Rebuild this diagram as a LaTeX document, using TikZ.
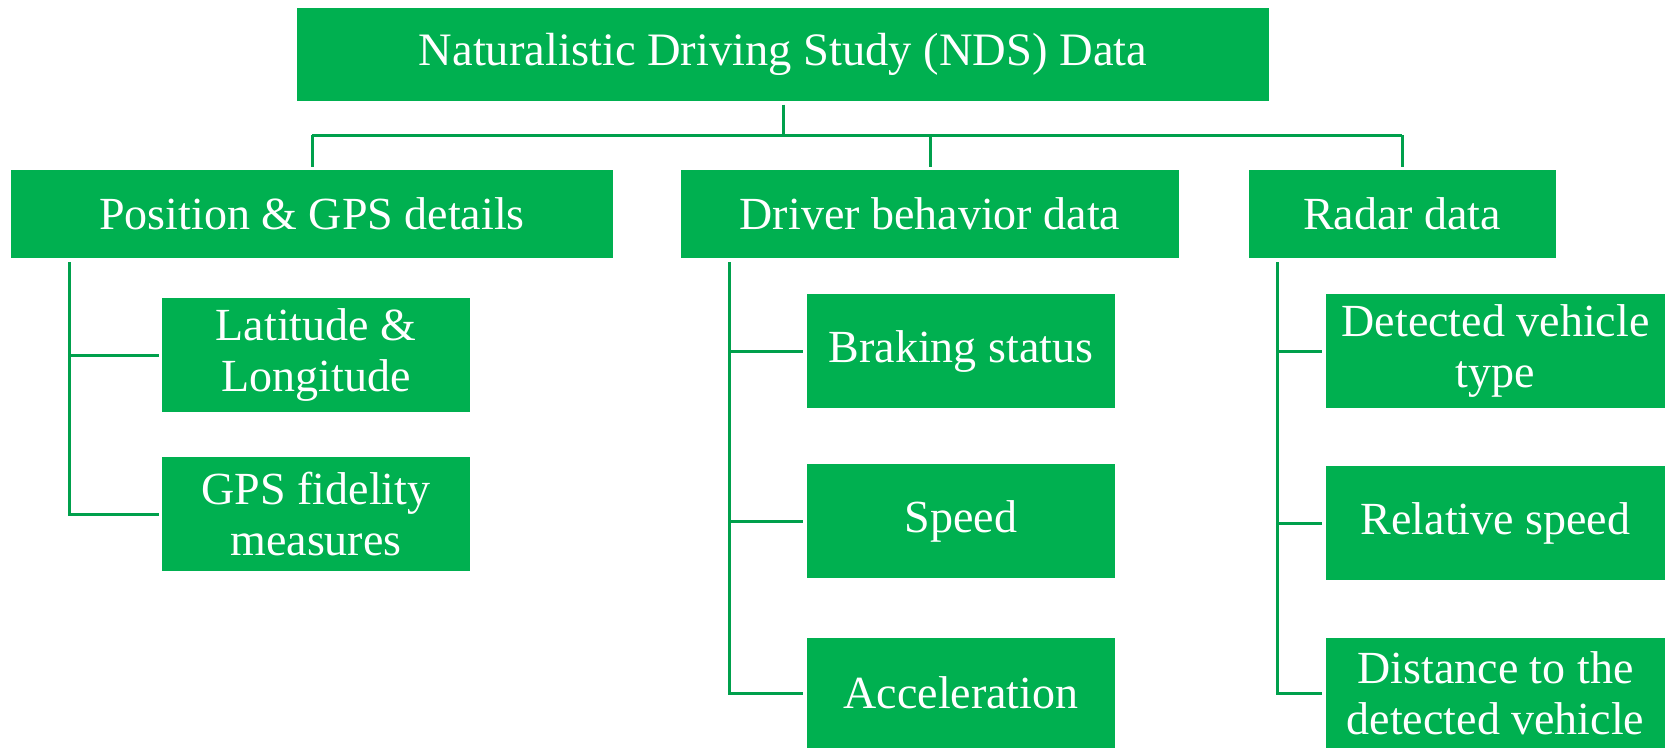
\documentclass[tikz,border=0pt]{standalone}
\usepackage{fontspec}
\setmainfont{Liberation Serif}
\definecolor{boxgreen}{HTML}{00B050}
\definecolor{linegreen}{HTML}{00A04C}
\begin{document}
\begin{tikzpicture}[x=1pt,y=-1pt,
  box/.style={fill=boxgreen, draw=none, text=white, inner sep=0pt, align=center,
    font=\fontsize{46}{51}\selectfont},
  conn/.style={draw=linegreen, line width=3pt}]
\useasboundingbox (0,0) rectangle (1669,748);
% top
\node[box, minimum width=972pt, minimum height=93pt, font=\fontsize{46.5}{51}\selectfont] (top) at (783,54.5) {Naturalistic Driving Study (NDS) Data};
% level 1
\node[box, minimum width=602pt, minimum height=88pt] (pos) at (312,214) {Position \& GPS details};
\node[box, minimum width=498pt, minimum height=88pt] (drv) at (930,214) {Driver behavior data};
\node[box, minimum width=307pt, minimum height=88pt] (rad) at (1402,214) {Radar data};
% level 2
\node[box, minimum width=308pt, minimum height=114pt] (lat) at (316,355) {Latitude \&\\Longitude};
\node[box, minimum width=308pt, minimum height=114pt] (gps) at (316,514) {GPS fidelity\\measures};
\node[box, minimum width=308pt, minimum height=114pt] (brk) at (961,351) {Braking status};
\node[box, minimum width=308pt, minimum height=114pt] (spd) at (961,521) {Speed};
\node[box, minimum width=308pt, minimum height=110pt] (acc) at (961,693) {Acceleration};
\node[box, minimum width=339pt, minimum height=114pt] (det) at (1495.5,351) {Detected vehicle\\type};
\node[box, minimum width=339pt, minimum height=114pt] (rel) at (1495.5,523) {Relative speed};
\node[box, minimum width=339pt, minimum height=110pt] (dis) at (1495.5,693) {Distance to the\\detected vehicle};
% bus
\coordinate (bus) at (783,135);
\draw[conn, shorten <=3.5pt] (top.south) -- (bus);
\draw[conn] (pos.north |- bus) -- (rad.north |- bus);
\draw[conn, shorten >=3pt] (pos.north |- bus) -- (pos.north);
\draw[conn, shorten >=3pt] (drv.north |- bus) -- (drv.north);
\draw[conn, shorten >=3pt] (rad.north |- bus) -- (rad.north);
% trunks
\coordinate (pv) at (69.5,258);
\coordinate (dv) at (729.5,258);
\coordinate (rv) at (1277,258);
\draw[conn, shorten <=4pt] (pv) -- (pv |- gps.west) -- ([xshift=-3pt]gps.west);
\draw[conn, shorten >=3pt] (pv |- lat.west) -- (lat.west);
\draw[conn, shorten <=4pt] (dv) -- (dv |- acc.west) -- ([xshift=-4pt]acc.west);
\draw[conn, shorten >=4pt] (dv |- brk.west) -- (brk.west);
\draw[conn, shorten >=4pt] (dv |- spd.west) -- (spd.west);
\draw[conn, shorten <=4pt] (rv) -- (rv |- dis.west) -- ([xshift=-4pt]dis.west);
\draw[conn, shorten >=4pt] (rv |- det.west) -- (det.west);
\draw[conn, shorten >=4pt] (rv |- rel.west) -- (rel.west);
\end{tikzpicture}
\end{document}
